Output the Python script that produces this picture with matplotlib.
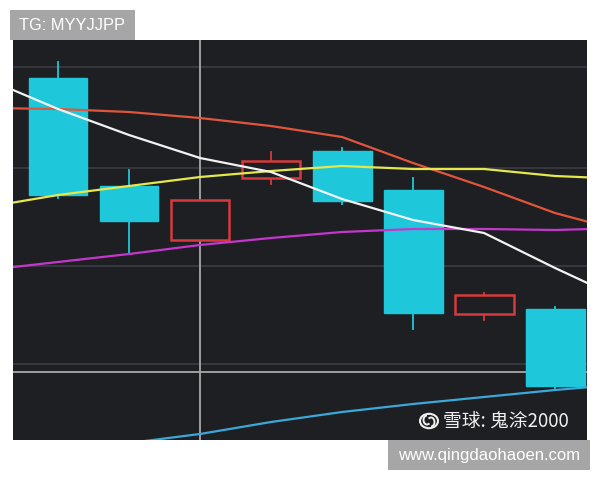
import matplotlib
matplotlib.use("Agg")
import matplotlib.pyplot as plt
from matplotlib.patches import Rectangle, Circle, Arc

# ---- data (prices) ----
candle_x = [0, 1, 2, 3, 4, 5, 6, 7]
opens  = [40.2, 29.4, 24.0, 30.2, 32.9, 29.0, 16.6, 17.1]
highs  = [41.8, 31.0, 28.0, 32.8, 33.2, 30.2, 18.7, 17.3]
lows   = [28.2, 22.6, 24.0, 29.6, 27.6, 15.1, 16.0, 9.2]
closes = [28.5, 25.9, 28.0, 31.9, 27.9, 16.7, 18.5, 9.4]

ma_x = [-1, 0, 1, 2, 3, 4, 5, 6, 7, 8]
ma_white   = [40.1, 37.1, 34.5, 32.2, 30.8, 28.1, 26.0, 24.7, 21.2, 17.9]
ma_red     = [37.2, 37.1, 36.8, 36.2, 35.4, 34.3, 31.7, 29.3, 26.7, 24.8]
ma_yellow  = [27.3, 28.5, 29.4, 30.3, 30.9, 31.4, 31.1, 31.1, 30.4, 30.1]
ma_magenta = [21.0, 21.8, 22.6, 23.5, 24.2, 24.8, 25.1, 25.1, 25.0, 25.2]
ma_blue    = [1.8, 2.8, 3.7, 4.6, 5.8, 6.8, 7.6, 8.3, 9.0, 9.6]

faint_levels = [41.3, 31.2, 21.4, 11.6]
bright_level = 10.8
cross_x = 2

# ---- figure ----
W, H = 600, 480
fig = plt.figure(figsize=(6, 4.8), dpi=100)
fig.patch.set_facecolor("white")
ax = fig.add_axes([13/W, 40/H, 574/W, 400/H])
bg = "#1e1f23"
ax.set_facecolor(bg)
ax.set_xlim(-0.634, 7.45)
ax.set_ylim(4, 44)
ax.set_xticks([]); ax.set_yticks([])
for s in ax.spines.values():
    s.set_visible(False)

for lv in faint_levels:
    ax.axhline(lv, color="#3c3d42", lw=1.2, zorder=1)
ax.axhline(bright_level, color="#a8a8a8", lw=1.3, zorder=1)
ax.axvline(cross_x, color="#a8a8a8", lw=1.3, zorder=1)

cyan = "#1ec8da"
red = "#d63a3c"
w = 0.83
for x, o, h, l, c in zip(candle_x, opens, highs, lows, closes):
    up = c >= o
    col = red if up else cyan
    top, bot = max(o, c), min(o, c)
    ax.plot([x, x], [top, h], color=col, lw=1.3, zorder=3)
    ax.plot([x, x], [l, bot], color=col, lw=1.3, zorder=3)
    if up:
        ax.add_patch(Rectangle((x - w/2, bot), w, top - bot, facecolor=bg,
                               edgecolor=col, lw=1.8, zorder=3))
    else:
        ax.add_patch(Rectangle((x - w/2, bot), w, top - bot, facecolor=col,
                               edgecolor=col, lw=1.0, zorder=3))

ax.plot(ma_x, ma_red, color="#e0553c", lw=1.6, zorder=4)
ax.plot(ma_x, ma_yellow, color="#e4e84c", lw=1.6, zorder=4)
ax.plot(ma_x, ma_magenta, color="#c436cc", lw=1.6, zorder=4)
ax.plot(ma_x, ma_white, color="#f2f2f2", lw=1.6, zorder=5)
ax.plot(ma_x, ma_blue, color="#3aa8d8", lw=1.6, zorder=4)

# ---- watermarks ----
def px_box(x0, y0, x1, y1):
    fig.patches.append(Rectangle((x0/W, 1 - y1/H), (x1 - x0)/W, (y1 - y0)/H,
                                 transform=fig.transFigure, facecolor="#a6a6a6",
                                 edgecolor="none", zorder=10))

px_box(10, 10, 135, 40)
fig.text(72/W, 1 - 25.5/H, "TG: MYYJJPP", fontsize=11.8, color="white",
         family="Liberation Sans", va="center", ha="center", zorder=11)
px_box(388, 440, 590, 470)
fig.text(489/W, 1 - 455.5/H, "www.qingdaohaoen.com", fontsize=12, color="white",
         family="Liberation Sans", va="center", ha="center", zorder=11)
fig.text(443/W, 1 - 421/H, "雪球: 鬼涂2000", fontsize=13.5, color="#f0f0f0",
         family=["Noto Sans CJK SC", "DejaVu Sans"], va="center", ha="left")
# logo circle
cx, cy = 429/W, 1 - 421/H
fig.patches.append(Circle((cx, cy), 9/W, transform=fig.transFigure, fill=False,
                          edgecolor="#f0f0f0", lw=1.5))
fig.patches.append(Arc((cx - 2/W, cy + 1/H), 7/W, 9/H, theta1=90, theta2=300,
                       transform=fig.transFigure, edgecolor="#f0f0f0", lw=1.4))
fig.patches.append(Arc((cx + 2/W, cy - 1/H), 7/W, 9/H, theta1=270, theta2=120,
                       transform=fig.transFigure, edgecolor="#f0f0f0", lw=1.4))

fig.savefig("out.png", dpi=100, facecolor="white")
